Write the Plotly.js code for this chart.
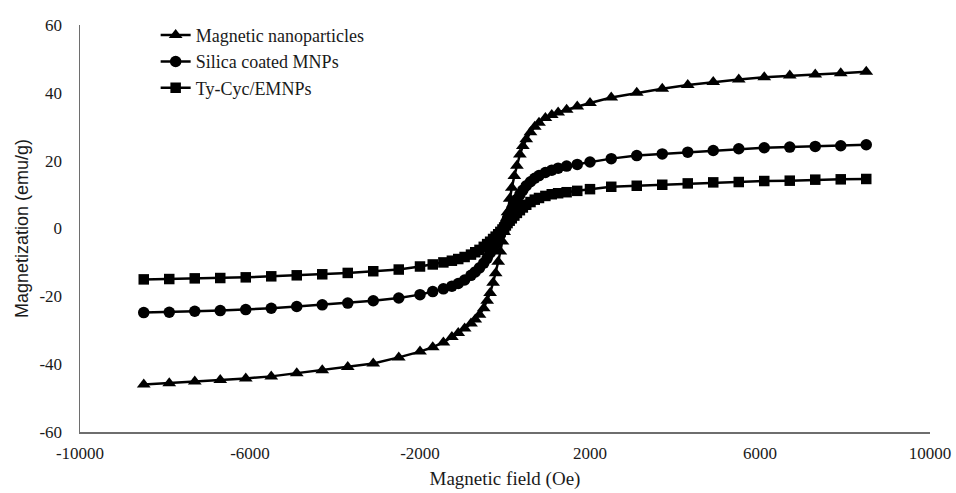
<!DOCTYPE html>
<html>
<head>
<meta charset="utf-8">
<script src="https://cdn.plot.ly/plotly-3.0.1.min.js"></script>
<style>html,body{margin:0;padding:0;background:#fff;}#chart{width:956px;height:493px;}</style>
</head>
<body>
<div id="chart"></div>
<script>
const field = [-8500,-7900,-7300,-6700,-6100,-5500,-4900,-4300,-3700,-3100,-2500,
  -2000,-1700,-1450,-1250,-1100,-950,-800,-700,-600,-500,-420,-350,-280,-220,-160,-110,-60,-20,
  20,60,110,160,220,280,350,420,500,600,700,800,950,1100,1250,1450,1700,2000,
  2500,3100,3700,4300,4900,5500,6100,6700,7300,7900,8500];

const magneticNP = [-46.0,-45.6,-45.1,-44.7,-44.2,-43.6,-42.7,-41.8,-40.8,-39.8,-38.0,
  -36.3,-35.0,-33.6,-32.0,-30.8,-29.5,-28.0,-26.8,-25.4,-23.5,-21.3,-19.0,-16.0,-13.2,-9.8,-6.8,-3.8,-1.0,
  1.8,4.8,8.8,12.0,15.5,18.5,21.8,24.3,26.3,28.4,30.0,31.2,32.6,33.5,34.2,35.0,36.0,37.0,
  38.6,40.0,41.2,42.3,43.2,43.9,44.6,45.1,45.4,45.8,46.2];

const silicaMNP = [-24.8,-24.7,-24.4,-24.2,-23.9,-23.5,-23.0,-22.5,-22.0,-21.3,-20.5,
  -19.5,-18.6,-17.8,-17.0,-16.2,-15.2,-13.8,-12.8,-11.6,-10.2,-8.8,-7.2,-5.8,-4.4,-3.0,-1.8,-0.5,0.6,
  1.8,3.0,4.4,5.8,7.2,8.6,10.0,11.3,12.6,13.8,14.8,15.6,16.5,17.2,17.8,18.4,18.9,19.6,
  20.6,21.5,22.0,22.5,23.0,23.5,23.8,24.0,24.2,24.4,24.7];

const tyCycMNP = [-15.0,-14.9,-14.7,-14.6,-14.4,-14.1,-13.8,-13.5,-13.1,-12.6,-12.1,
  -11.2,-10.6,-10.0,-9.5,-9.0,-8.4,-7.7,-7.0,-6.3,-5.4,-4.6,-3.9,-3.1,-2.4,-1.7,-1.0,-0.3,0.3,
  0.9,1.6,2.3,3.0,3.8,4.6,5.4,6.2,7.0,7.8,8.5,9.0,9.6,10.1,10.4,10.7,11.1,11.6,
  12.3,12.6,12.9,13.3,13.6,13.7,14.0,14.1,14.4,14.5,14.6];

const seriesNames = ['Magnetic nanoparticles','Silica coated MNPs','Ty-Cyc/EMNPs'];
const xTicks = [-10000,-6000,-2000,2000,6000,10000];
const yTicks = [-60,-40,-20,0,20,40,60];

const serif = '"Liberation Serif","Times New Roman",serif';
const sans = '"Liberation Sans",Arial,sans-serif';
const txt = '#1a1a1a';

function trace(y, name, symbol, size, grp){
  return {x: field, y: y, name: name, legendgroup: grp, type:'scatter', mode:'lines+markers',
    line:{color:'#000', width:2.5}, marker:{symbol:symbol, size:size, color:'#000'}};
}

const data = [
  trace(magneticNP, seriesNames[0], 'triangle-up', 12, 'a'),
  trace(silicaMNP, seriesNames[1], 'circle', 11.5, 'b'),
  trace(tyCycMNP, seriesNames[2], 'square', 10.5, 'c')
];

const layout = {
  width:956, height:493,
  margin:{l:80, r:26, t:25, b:61},
  paper_bgcolor:'#fff', plot_bgcolor:'#fff',
  font:{family:serif, color:txt, size:17},
  showlegend:true,
  legend:{x:0.089, y:1.02, xanchor:'left', yanchor:'top', bgcolor:'rgba(0,0,0,0)',
    font:{family:serif, size:18, color:txt}, traceorder:'grouped', tracegroupgap:0, itemsizing:'trace'},
  xaxis:{range:[-10000,10000], tickvals:xTicks, ticktext:xTicks.map(String),
    showgrid:false, zeroline:false, showline:true, linecolor:'#6e6e6e', linewidth:1.5,
    ticks:'', ticklabelstandoff:5, tickfont:{family:serif, size:17, color:txt},
    title:{text:'Magnetic field (Oe)', font:{family:serif, size:19, color:txt}, standoff:10}},
  yaxis:{range:[-60,60], tickvals:yTicks, ticktext:yTicks.map(String),
    showgrid:false, zeroline:false, showline:true, linecolor:'#6e6e6e', linewidth:1.5,
    ticks:'', ticklabelstandoff:13, tickfont:{family:serif, size:17, color:txt},
    title:{text:'Magnetization (emu/g)', font:{family:sans, size:18, color:txt}, standoff:6}}
};

Plotly.newPlot('chart', data, layout, {displayModeBar:false, staticPlot:true});
</script>
</body>
</html>
